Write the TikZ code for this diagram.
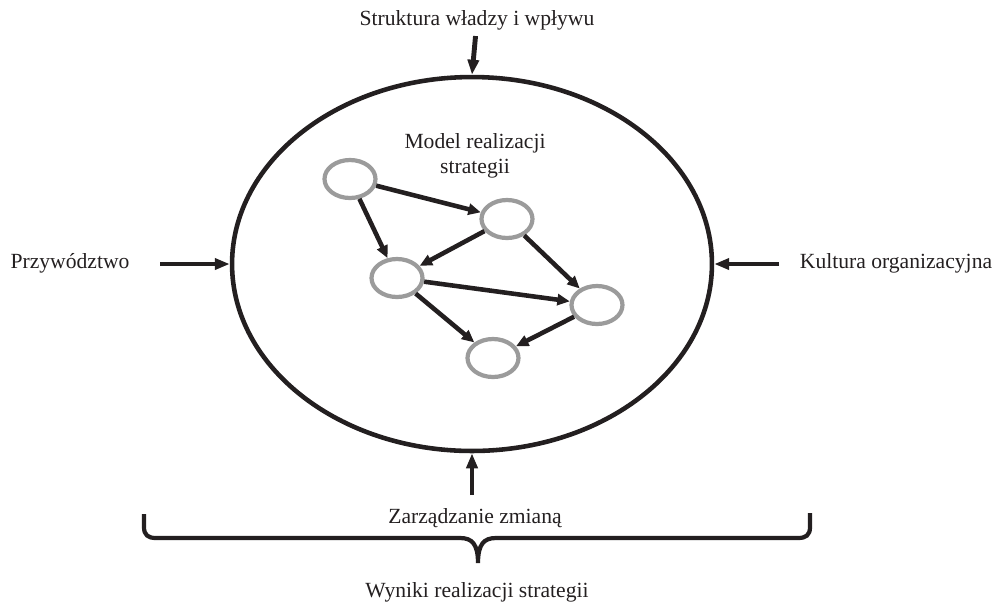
\documentclass[tikz,border=0pt]{standalone}
\usepackage{fontspec}
\setmainfont{Liberation Serif}
\usetikzlibrary{arrows.meta,shapes.geometric}
\definecolor{ink}{HTML}{231F20}
\definecolor{ring}{HTML}{9B9B9B}

\begin{document}
\begin{tikzpicture}[x=0.02cm,y=-0.02cm,
	stage node/.style={ellipse,draw=ring,line width=2.4pt,minimum width=1.02cm,minimum height=0.76cm,inner sep=0pt},
	flow arrow/.style={-{Triangle[length=2.5mm,width=2.2mm]},line width=2.6pt,draw=ink,fill=ink},
	force arrow/.style={-{Triangle[length=3mm,width=2.2mm]},line width=2.8pt,draw=ink,fill=ink},
	label node/.style={font=\fontsize{12.3}{14.5}\selectfont,align=center,text=ink}
]
	\useasboundingbox (0,0) rectangle (1000,603);

	% outer field
	\node[ellipse,draw=ink,line width=2.6pt,minimum width=9.6cm,minimum height=7.48cm,inner sep=0pt] (org) at (472,264) {};

	% model inside
	\node[label node] (model) at (475,156) {Model realizacji\\strategii};
	\node[stage node] (s1) at (350,179) {};
	\node[stage node] (s2) at (507,219) {};
	\node[stage node] (s3) at (397,278) {};
	\node[stage node] (s4) at (597,305) {};
	\node[stage node] (s5) at (493,358) {};

	\foreach \from/\to in {s1/s2,s1/s3,s2/s3,s2/s4,s3/s4,s3/s5,s4/s5}
		\draw[flow arrow] (\from) -- (\to);

	% forces around
	\node[label node] (power) at (477,20) {Struktura władzy i wpływu};
	\node[label node] (lead) at (70,263) {Przywództwo};
	\node[label node] (culture) at (896,263) {Kultura organizacyjna};
	\node[label node] (change) at (475,518) {Zarządzanie zmianą};
	\node[label node] (result) at (477,592) {Wyniki realizacji strategii};

	\coordinate (lead in) at (160,264);
	\coordinate (culture in) at (779,264);
	\coordinate (change in) at (472,495);

	\draw[force arrow] (power) -- (org.north);
	\draw[force arrow] (lead in) -- (org.west);
	\draw[force arrow] (culture in) -- (org.east);
	\draw[force arrow] (change in) -- (org.south);

	% brace
	\draw[ink,line width=2.4pt]
		(144,514) -- (144,527) .. controls (144,535) and (148,538) .. (156,538)
		-- (460,538) .. controls (472,538) and (478,544) .. (478,563)
		.. controls (478,544) and (484,538) .. (496,538)
		-- (798,538) .. controls (806,538) and (810,535) .. (810,527) -- (810,513);
\end{tikzpicture}
\end{document}
